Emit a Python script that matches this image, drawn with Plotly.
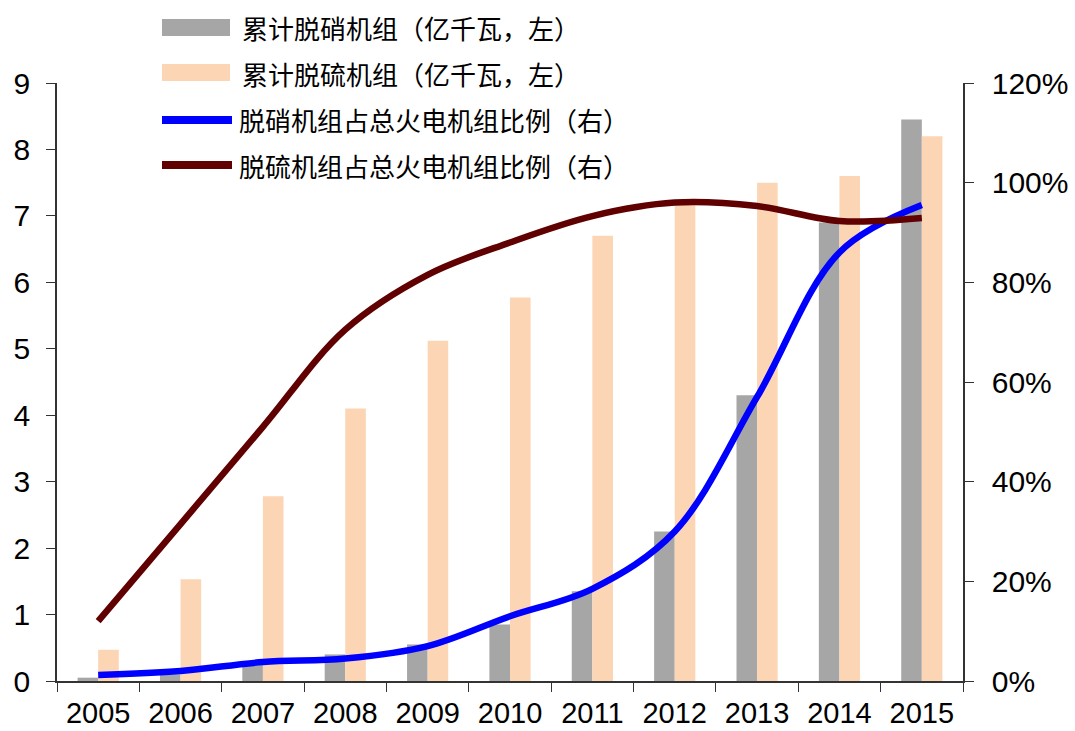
import plotly.graph_objects as go

years = ["2005", "2006", "2007", "2008", "2009", "2010", "2011", "2012", "2013", "2014", "2015"]
denox_capacity = [0.05, 0.1, 0.3, 0.4, 0.55, 0.85, 1.35, 2.25, 4.3, 6.9, 8.45]
desulf_capacity = [0.47, 1.53, 2.78, 4.1, 5.12, 5.77, 6.7, 7.2, 7.5, 7.6, 8.2]
denox_ratio = [1.2, 2.0, 3.8, 4.5, 7.0, 13.0, 18.5, 30.0, 57.0, 86.0, 95.5]
desulf_ratio = [12.0, 31.5, 51.0, 70.5, 81.5, 88.0, 93.3, 96.0, 95.3, 92.3, 92.9]

names = ["累计脱硝机组（亿千瓦，左）", "累计脱硫机组（亿千瓦，左）",
         "脱硝机组占总火电机组比例（右）", "脱硫机组占总火电机组比例（右）"]
colors = ["#A6A6A6", "#FCD5B4", "#0000FF", "#600000"]

fig = go.Figure()
fig.add_trace(go.Bar(x=years, y=denox_capacity, name=names[0], marker_color=colors[0],
                     marker_line_width=0))
fig.add_trace(go.Bar(x=years, y=desulf_capacity, name=names[1], marker_color=colors[1],
                     marker_line_width=0))
fig.add_trace(go.Scatter(x=years, y=denox_ratio, name=names[2], yaxis="y2", mode="lines",
                         line=dict(color=colors[2], width=6.5, shape="spline", smoothing=1.0)))
fig.add_trace(go.Scatter(x=years, y=desulf_ratio, name=names[3], yaxis="y2", mode="lines",
                         line=dict(color=colors[3], width=6.5, shape="spline", smoothing=1.0)))

tickfont = dict(family="Liberation Sans, Arial, sans-serif", size=30, color="#000000")
xtickfont = dict(family="Liberation Sans, Arial, sans-serif", size=29, color="#000000")
axis_color = "#333333"

fig.update_layout(
    width=1075, height=731,
    margin=dict(l=57, r=112, t=83, b=50),
    paper_bgcolor="white", plot_bgcolor="white",
    barmode="group", bargap=0.5, bargroupgap=0,
    showlegend=False,
    xaxis=dict(type="category", showline=True, linecolor=axis_color, linewidth=1.5,
               ticks="outside", tickson="boundaries", ticklen=9, tickcolor=axis_color,
               tickfont=xtickfont, showgrid=False, zeroline=False, ticklabelstandoff=5,
               automargin=False),
    yaxis=dict(range=[0, 9], dtick=1, showline=True, linecolor=axis_color, linewidth=1.5,
               ticks="outside", ticklen=9, tickcolor=axis_color, tickfont=tickfont,
               showgrid=False, zeroline=False, ticklabelstandoff=10, automargin=False),
    yaxis2=dict(range=[0, 120], dtick=20, overlaying="y", side="right", showline=True,
                linecolor=axis_color, linewidth=1.5, ticks="outside", ticklen=9,
                tickcolor=axis_color, tickfont=tickfont, ticksuffix="%",
                showgrid=False, zeroline=False, ticklabelstandoff=12, automargin=False),
)

# custom legend (paper coordinates)
legend_font = dict(family="Noto Sans CJK SC", size=26, color="#000000")
H = 731.0
pl, pb, pw, ph = 57.0, 50.0, 1075.0 - 57 - 112, 731.0 - 83 - 50

def px(x):
    return (x - pl) / pw

def py(y):
    return (H - y - pb) / ph

rows = [28, 73, 120, 165]
for i, (nm, col) in enumerate(zip(names, colors)):
    yc = rows[i]
    if i < 2:
        fig.add_shape(type="rect", xref="paper", yref="paper",
                      x0=px(162), x1=px(230), y0=py(yc + 8), y1=py(yc - 9),
                      fillcolor=col, line_width=0)
        tx = 240
    else:
        fig.add_shape(type="line", xref="paper", yref="paper",
                      x0=px(162), x1=px(232), y0=py(yc), y1=py(yc),
                      line=dict(color=col, width=8))
        tx = 237
    fig.add_annotation(xref="paper", yref="paper", x=px(tx), y=py(yc), text=nm,
                       showarrow=False, xanchor="left", yanchor="middle", font=legend_font)

fig.write_html("out.html")
